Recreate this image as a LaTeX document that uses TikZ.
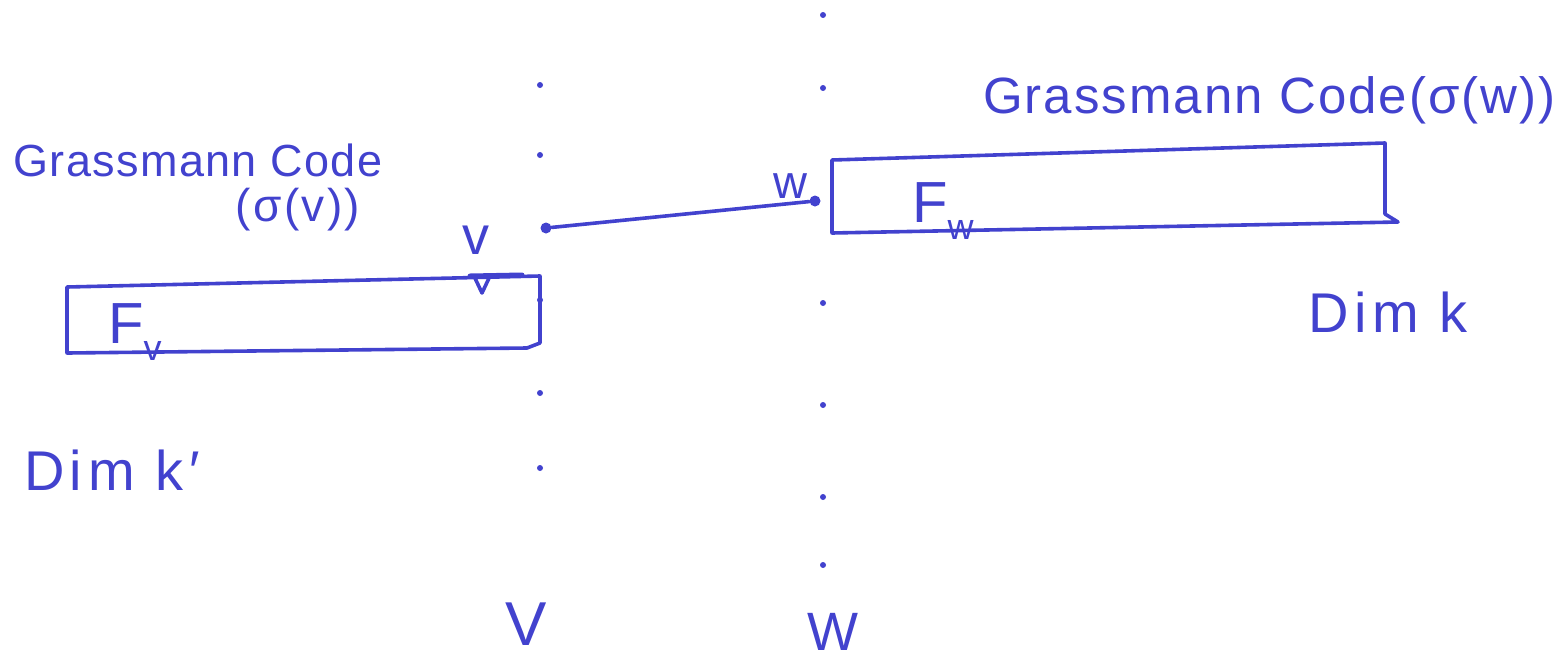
\documentclass[tikz,border=0pt]{standalone}
\usepackage{fontspec}
\setmainfont{Liberation Sans}
\definecolor{ink}{RGB}{66,66,206}
\newcommand{\subv}[1]{\raisebox{-0.3em}{\fontsize{36}{40}\selectfont #1}}
\begin{document}
\begin{tikzpicture}[x=1pt,y=-1pt,
  pen/.style={draw=ink,line width=3.6pt,line join=round,line cap=round},
  inkdot/.style={circle,fill=ink,inner sep=0pt,minimum size=6pt},
  enddot/.style={circle,fill=ink,inner sep=0pt,minimum size=11pt},
  hand/.style={text=ink,inner sep=0pt,font=\fontsize{47}{54}\selectfont},
  widehand/.style={text=ink,inner sep=0pt,font=\fontsize{51}{58}\selectfont\addfontfeature{LetterSpace=4}},
  bighand/.style={text=ink,inner sep=0pt,font=\fontsize{58}{64}\selectfont}]
\useasboundingbox (0,0) rectangle (1562,662);

% dotted vertical line of V
\foreach \y [count=\i] in {85,155,300,393,468}
  \node[inkdot] (vd\i) at (540,\y) {};
% dotted vertical line of W
\foreach \y [count=\i] in {15,88,303,405,497,565}
  \node[inkdot] (wd\i) at (823,\y) {};

\node[bighand,font=\fontsize{62}{66}\selectfont] (Vlab) at (526,624) {V};
\node[bighand,font=\fontsize{54}{60}\selectfont] (Wlab) at (833,632) {W};

% frame of the code on V
\draw[pen] (67,287) -- (540,276) -- (540,343) -- (527,348) -- (67,353) -- cycle;
\node[bighand,anchor=base west] (Fv) at (108,343) {F\subv{v}};
\draw[pen,line width=5pt] (470,276) -- (522,275);
\draw[pen] (474,276) -- (482,293) -- (490,276);
\node[hand,font=\fontsize{54}{60}\selectfont] (vlab) at (476,240) {v};

% frame of the code on W
\draw[pen] (832,160) -- (1385,143) -- (1385,214) -- (1398,222) -- (832,233) -- cycle;
\node[bighand,anchor=base west] (Fw) at (912,222) {F\subv{w}};

% edge between the vertices v and w
\node[enddot] (vpt) at (546,228) {};
\node[enddot] (wpt) at (815,201) {};
\draw[pen] (vpt) -- (wpt);
\node[hand] (wlab) at (790,186) {w};

% labels
\node[hand,font=\fontsize{45}{50}\selectfont\addfontfeature{LetterSpace=3}] (gcv) at (198,160) {Grassmann Code};
\node[hand,font=\fontsize{46}{52}\selectfont\addfontfeature{LetterSpace=5}] (sv) at (298,210) {(σ(v))};
\node[widehand,anchor=east] (gcw) at (1556,100) {Grassmann Code(σ(w))};
\node[widehand,font=\fontsize{56}{60}\selectfont\addfontfeature{LetterSpace=10}] (dk) at (1388,312) {Dim k};
\node[widehand,font=\fontsize{56}{60}\selectfont\addfontfeature{LetterSpace=10}] (dkp) at (112,470) {Dim k′};
\end{tikzpicture}
\end{document}
